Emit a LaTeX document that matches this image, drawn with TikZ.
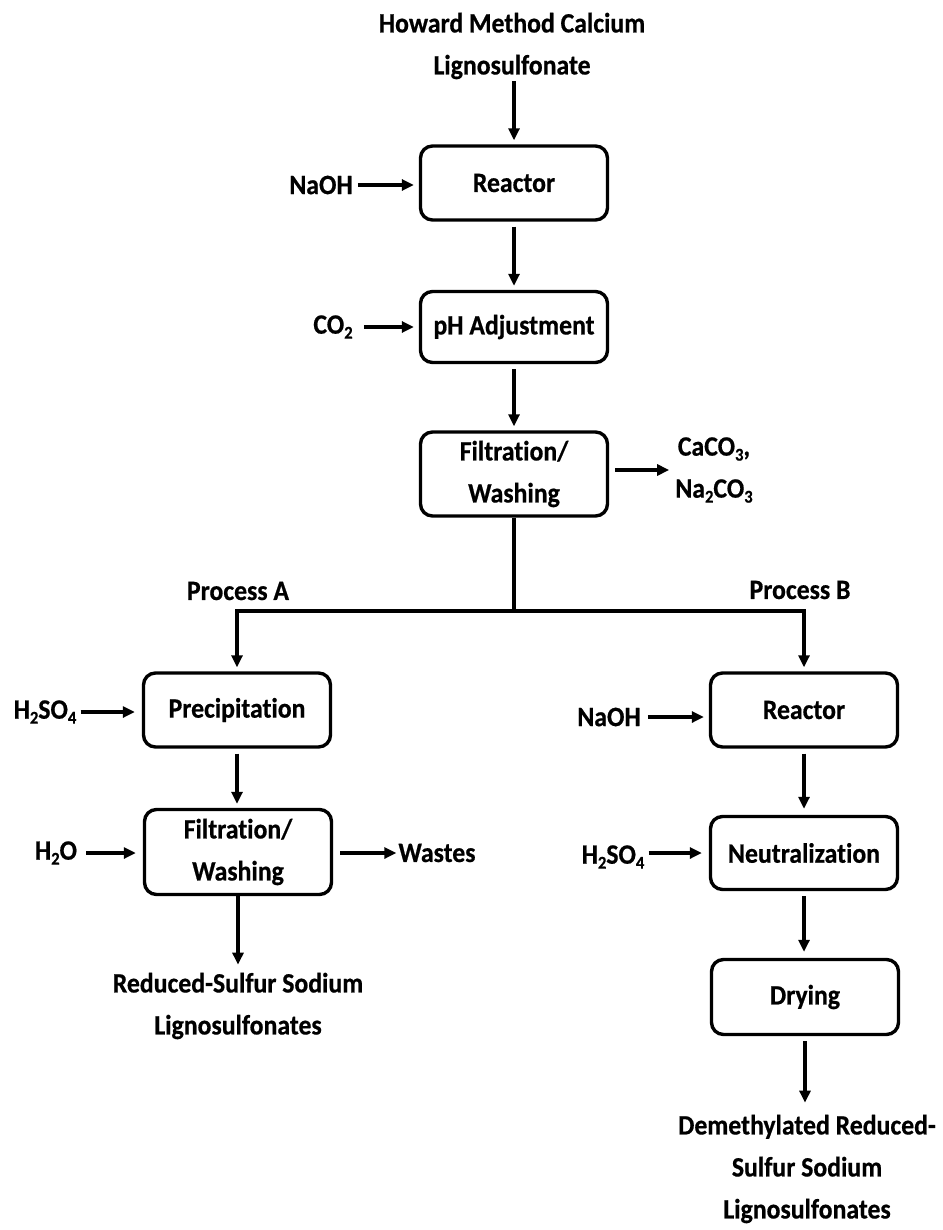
\documentclass[tikz,border=0pt]{standalone}
\usepackage{fontspec}
\setmainfont{Carlito}[FakeStretch=0.92, Ligatures=NoCommon, FakeBold=0.6]
\usetikzlibrary{arrows.meta}
\newcommand\chemsub[1]{\raisebox{-5pt}{\fontsize{18}{18}\selectfont #1}}
\tikzset{
  txt/.style={font=\bfseries\fontsize{28}{42}\selectfont, align=center, inner sep=2pt, text=black},
  stepbox/.style={txt, draw, line width=3.4pt, rounded corners=12pt,
                  minimum width=187pt, minimum height=74pt, inner sep=0pt},
  flow/.style={line width=3.4pt, -{Triangle[length=12pt,width=11pt]}},
  plain/.style={line width=3.4pt}
}
\begin{document}
\begin{tikzpicture}[x=1pt,y=-1pt]
\useasboundingbox (0,0) rectangle (942,1230);

% main trunk
\node[txt] (feed) at (512,46) {Howard Method Calcium\\Lignosulfonate};
\node[stepbox] (reactorA) at (514,183) {Reactor};
\node[txt] (naohA) at (321,185) {NaOH};
\node[stepbox, minimum height=71pt] (ph) at (514,327) {pH Adjustment};
\node[txt] (co2) at (333,327) {CO\chemsub{2}};
\node[stepbox, minimum height=84pt] (filtA) at (514,474) {Filtration/\\Washing};
\node[txt] (solids) at (714,470) {CaCO\chemsub{3},\\Na\chemsub{2}CO\chemsub{3}};

\draw[flow, shorten >=4pt] (feed.south -| reactorA.north) -- (reactorA.north);
\draw[flow, shorten <=3pt, shorten >=5pt] (naohA.east) -- (naohA.east -| reactorA.west);
\draw[flow, shorten <=5pt, shorten >=4pt] (reactorA.south) -- (ph.north);
\draw[flow, shorten <=9pt, shorten >=5pt] (co2.east) -- (co2.east -| ph.west);
\draw[flow, shorten <=5pt, shorten >=4pt] (ph.south) -- (filtA.north);
\draw[flow, shorten <=6pt, shorten >=4pt] (filtA.east |- solids.center) -- (solids.west |- solids.center);

% split into the two routes
\coordinate (split) at (514,611);
\coordinate (leftTurn) at (237,611);
\coordinate (rightTurn) at (804,611);
\node[txt] (procA) at (238,591) {Process A};
\node[txt] (procB) at (800,590) {Process B};

% process A
\node[stepbox] (precip) at (237,710) {Precipitation};
\node[txt] (h2so4A) at (45,712) {H\chemsub{2}SO\chemsub{4}};
\node[stepbox, minimum height=85pt] (filtB) at (238,852) {Filtration/\\Washing};
\node[txt] (h2o) at (56,853) {H\chemsub{2}O};
\node[txt] (wastes) at (437,853) {Wastes};
\node[txt] (prodA) at (238,1006) {Reduced-Sulfur Sodium\\Lignosulfonates};

% process B
\node[stepbox] (reactorB) at (804,710) {Reactor};
\node[txt] (naohB) at (609,717) {NaOH};
\node[stepbox, minimum height=73pt] (neut) at (804,853) {Neutralization};
\node[txt] (h2so4B) at (613,857) {H\chemsub{2}SO\chemsub{4}};
\node[stepbox, minimum height=75pt] (dry) at (805,997) {Drying};
\node[txt] (prodB) at (807,1169) {Demethylated Reduced-\\Sulfur Sodium\\Lignosulfonates};

\draw[plain] (filtA.south) -- (split);
\draw[flow, shorten >=4pt] (split) -- (leftTurn) -- (precip.north);
\draw[flow, shorten >=4pt] (split) -- (rightTurn) -- (reactorB.north);

\draw[flow, shorten <=2pt, shorten >=7pt] (h2so4A.east) -- (h2so4A.east -| precip.west);
\draw[flow, shorten <=5pt, shorten >=4pt] (precip.south) -- (precip.south |- filtB.north);
\draw[flow, shorten <=7pt, shorten >=7pt] (h2o.east) -- (h2o.east -| filtB.west);
\draw[flow, shorten <=7pt, shorten >=0pt] (filtB.east |- wastes.center) -- (wastes.west);
\draw[flow, shorten >=6pt] (filtB.south) -- (filtB.south |- prodA.north);

\draw[flow, shorten <=5pt, shorten >=5pt] (naohB.east) -- (naohB.east -| reactorB.west);
\draw[flow, shorten <=5pt, shorten >=6pt] (reactorB.south) -- (reactorB.south |- neut.north);
\draw[flow, shorten <=2pt, shorten >=7pt] (h2so4B.east |- neut.center) -- (neut.west);
\draw[flow, shorten <=5pt, shorten >=6pt] (neut.south) -- (neut.south |- dry.north);
\draw[flow, shorten <=5pt, shorten >=10pt] (dry.south) -- (dry.south |- prodB.north);
\end{tikzpicture}
\end{document}
